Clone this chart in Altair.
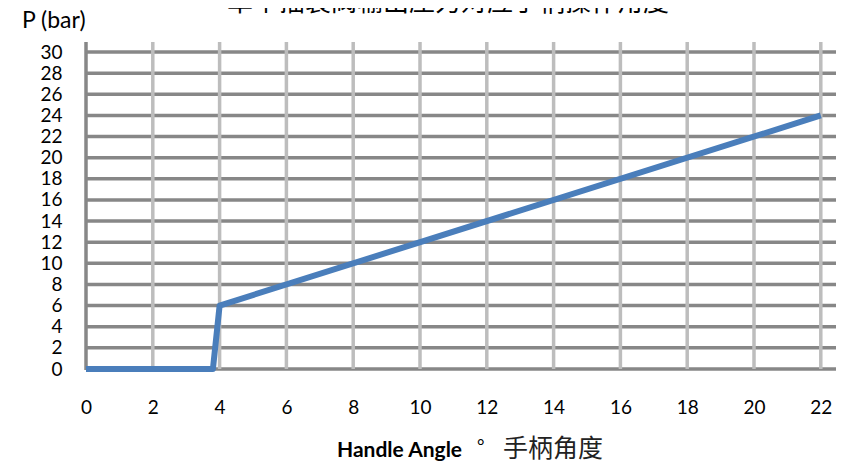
import altair as alt
import pandas as pd

# data
angle = [0, 3.8, 4, 22]
pressure = [0, 0, 6, 24]
x_ticks = [0, 2, 4, 6, 8, 10, 12, 14, 16, 18, 20, 22]
y_ticks = [0, 2, 4, 6, 8, 10, 12, 14, 16, 18, 20, 22, 24, 26, 28, 30]
title_text = "单个插装阀输出压力对应手柄操作角度"
y_title = "P (bar)"
x_title_en = "Handle Angle"
x_title_deg = "°"
x_title_cn = "手柄角度"

W, H = 750, 327
X_MAX, Y_MAX = 22.455, 30.95

line_df = pd.DataFrame({"angle": angle, "pressure": pressure})
hgrid_df = pd.DataFrame({"pressure": y_ticks})
vgrid_df = pd.DataFrame({"angle": [v for v in x_ticks if v > 0]})

xs = alt.Scale(domain=[0, X_MAX], nice=False, zero=False)
ys = alt.Scale(domain=[0, Y_MAX], nice=False, zero=False)

x_axis = alt.Axis(
    values=x_ticks, title=None, domain=False, ticks=False, grid=False,
    labelFont="Lato", labelFontSize=19, labelColor="#000000",
    labelPadding=29, labelBaseline="top", labelFlush=False)
y_axis = alt.Axis(
    values=y_ticks, title=None, domain=False, ticks=False, grid=False,
    labelFont="Lato", labelFontSize=19, labelColor="#000000",
    labelPadding=24, labelBaseline="middle", labelFlush=False)

hgrid = alt.Chart(hgrid_df).mark_rule(color="#878787", strokeWidth=3.5).encode(
    y=alt.Y("pressure:Q", scale=ys, axis=y_axis),
    x=alt.value(0), x2=alt.value(W),
)
vgrid = alt.Chart(vgrid_df).mark_rule(color="#bdbdbd", strokeWidth=3.5).encode(
    x=alt.X("angle:Q", scale=xs, axis=x_axis),
    y=alt.value(0), y2=alt.value(H),
)
left_axis = alt.Chart(pd.DataFrame({"angle": [0]})).mark_rule(color="#878787", strokeWidth=3.5).encode(
    x=alt.X("angle:Q", scale=xs, axis=x_axis),
    y=alt.value(0), y2=alt.value(H + 1),
)

line = alt.Chart(line_df).mark_line(color="#4a7ebb", strokeWidth=6, strokeJoin="round", strokeCap="butt").encode(
    x=alt.X("angle:Q", scale=xs, axis=x_axis),
    y=alt.Y("pressure:Q", scale=ys, axis=y_axis),
)

def txt(s, x, y, size, font, weight="normal", align="left", color="#000000"):
    return alt.Chart(pd.DataFrame({"t": [s]})).mark_text(
        font=font, fontSize=size, fontWeight=weight, align=align,
        baseline="alphabetic", color=color).encode(
        text="t:N", x=alt.value(x), y=alt.value(y))

texts = [
    txt(title_text, 362, -31, 26, "Noto Sans CJK SC", align="center"),
    txt(y_title, -64, -14, 23, "Lato"),
    txt(x_title_en, 251, 415, 21, "Lato", weight="bold"),
    txt(x_title_deg, 391, 410, 18, "Lato"),
    txt(x_title_cn, 417, 415, 25, "Noto Sans CJK SC", color="#222222"),
]

chart = alt.layer(hgrid, vgrid, left_axis, line, *texts).properties(
    width=W, height=H,
    autosize=alt.AutoSizeParams(type="none"),
    padding={"left": 78, "top": 34, "right": 0, "bottom": 93},
).configure_view(stroke=None)

chart.save("out.html", embed_options={"renderer": "svg", "actions": False})
